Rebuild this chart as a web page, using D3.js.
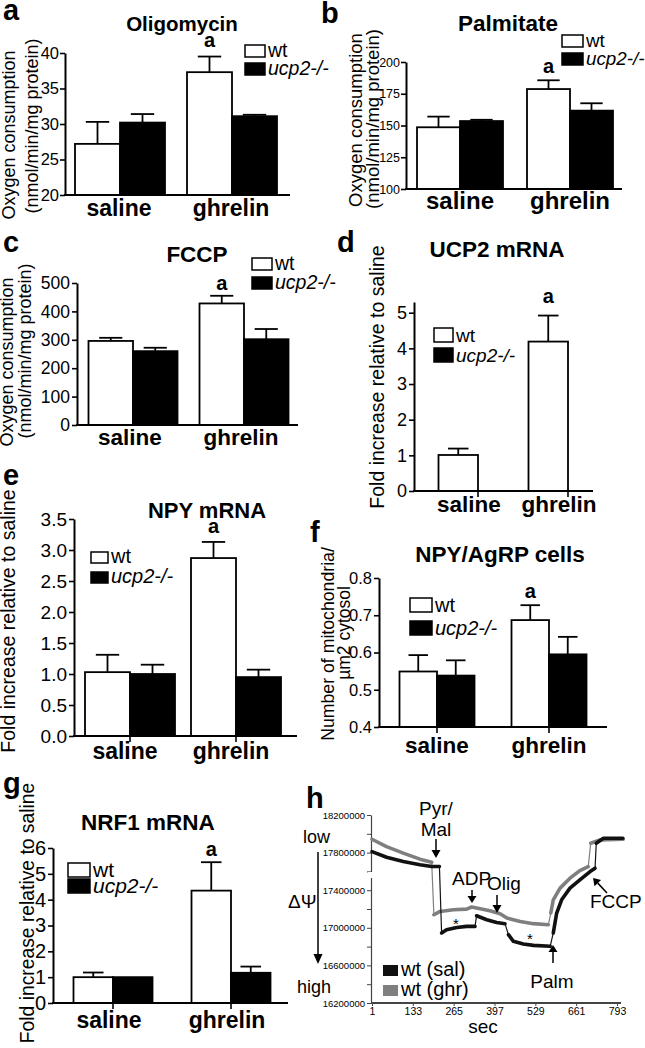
<!DOCTYPE html>
<html><head><meta charset="utf-8">
<script src="https://cdn.jsdelivr.net/npm/d3@7"></script>
<style>body{margin:0;background:#fff}svg{display:block}text{font-family:"Liberation Sans",Arial,Helvetica,sans-serif}</style>
</head><body><svg id="c" width="645" height="1048"></svg>
<script>
// ---------- DATA ----------
const categories = ["saline", "ghrelin"];
const seriesNames = ["wt", "ucp2-/-"];

// a: Oligomycin
const oligoWt = [27.2, 37.3], oligoWtSem = [3.1, 2.2];
const oligoKo = [30.2, 31.1], oligoKoSem = [1.2, 0.2];
const oligoTicks = [20, 25, 30, 35, 40];
// b: Palmitate
const palmWt = [148.6, 178.7], palmWtSem = [8.4, 6.9];
const palmKo = [153.5, 161.7], palmKoSem = [1.0, 5.8];
const palmTicks = [100, 125, 150, 175, 200];
// c: FCCP
const fccpWt = [296, 428], fccpWtSem = [11, 27];
const fccpKo = [260, 302], fccpKoSem = [12, 36];
const fccpTicks = [0, 100, 200, 300, 400, 500];
// d: UCP2 mRNA
const ucp2Wt = [1.01, 4.19], ucp2WtSem = [0.18, 0.73];
const ucp2Ko = [null, null], ucp2KoSem = [null, null];
const ucp2Ticks = [0, 1, 2, 3, 4, 5];
// e: NPY mRNA
const npyWt = [1.03, 2.87], npyWtSem = [0.28, 0.26];
const npyKo = [1.0, 0.95], npyKoSem = [0.15, 0.12];
const npyTicks = [0, 0.5, 1.0, 1.5, 2.0, 2.5, 3.0, 3.5];
// f: NPY/AgRP cells
const mitoWt = [0.549, 0.687], mitoWtSem = [0.044, 0.040];
const mitoKo = [0.538, 0.595], mitoKoSem = [0.041, 0.047];
const mitoTicks = [0.4, 0.5, 0.6, 0.7, 0.8];
// g: NRF1 mRNA
const nrf1Wt = [1.0, 4.35], nrf1WtSem = [0.18, 1.1];
const nrf1Ko = [1.0, 1.17], nrf1KoSem = [0, 0.24];
const nrf1Ticks = [0, 1, 2, 3, 4, 5, 6];
// h: membrane potential traces [sec, value], split into runs of dense samples
const hSeries = ["wt (sal)", "wt (ghr)"];
const salTrace = [
  [[1,17810000],[48,17751000],[102,17705000],[156,17670000],[194,17652000],[219,17652000]],
  [[226,16945000],[242,16980000],[275,17004000],[307,17015000],[334,17015000]],
  [[339,17128000],[372,17086000],[404,17057000],[431,17044000]],
  [[442,16927000],[458,16856000],[490,16828000],[523,16813000],[577,16803000]],
  [[587,16945000],[598,17157000],[614,17298000],[641,17422000],[673,17510000],[706,17598000],[722,17634000]],
  [[726,17900000],[749,17953000],[812,17953000]]
];
const ghrTrace = [
  [[1,17942000],[48,17864000],[102,17794000],[156,17730000],[194,17698000]],
  [[201,17139000],[221,17174000],[264,17192000],[307,17199000],[323,17221000],[339,17210000],[382,17181000],[415,17150000],[437,17104000],[480,17068000],[523,17044000],[571,17033000]],
  [[579,17157000],[587,17298000],[609,17422000],[641,17528000],[673,17609000],[700,17652000]],
  [[708,17900000],[738,17935000],[813,17942000]]
];
const hYLabels = [16200000, 16600000, 17000000, 17400000, 17800000, 18200000];
const hXTicks = [1, 133, 265, 397, 529, 661, 793];

// ---------- DRAWING ----------
const svg = d3.select("#c");
svg.append("rect").attr("width", 645).attr("height", 1048).attr("fill", "#fff");

function text(g, s, x, y, o = {}) {
  const t = g.append("text").text(s)
    .attr("font-size", o.size || 16)
    .attr("font-weight", o.bold ? "bold" : "normal")
    .attr("text-anchor", o.anchor || "start")
    .attr("fill", o.fill || "#000");
  if (o.italic) t.attr("font-style", "italic");
  if (o.family) t.attr("font-family", o.family);
  if (o.rotate) t.attr("transform", `translate(${x},${y}) rotate(-90)`);
  else t.attr("x", x).attr("y", y);
  return t;
}

function barPanel(c) {
  const g = svg.append("g");
  const y = d3.scaleLinear().domain(c.domain).range(c.yRange);
  const xc = d3.scalePoint().domain(categories).range(c.centers);
  const xs = d3.scaleBand().domain(seriesNames).range([-c.barW, c.barW]);
  const w = xs.bandwidth();
  const y0 = y(c.domain[0]);
  const sets = [
    { s: seriesNames[0], v: c.wt, e: c.wtSem, fill: "#fff" },
    { s: seriesNames[1], v: c.ko, e: c.koSem, fill: "#000" }
  ];
  sets.forEach(d => {
    categories.forEach((cat, i) => {
      const v = d.v[i];
      if (v == null) return;
      const x0 = xc(cat) + xs(d.s), cx = x0 + w / 2, e = d.e[i];
      if (e) {
        g.append("line").attr("x1", cx).attr("x2", cx).attr("y1", y(v)).attr("y2", y(v + e))
          .attr("stroke", "#000").attr("stroke-width", 1.8);
        g.append("line").attr("x1", cx - w * 0.26).attr("x2", cx + w * 0.26).attr("y1", y(v + e)).attr("y2", y(v + e))
          .attr("stroke", "#000").attr("stroke-width", 1.8);
      }
      g.append("rect").attr("x", x0).attr("y", y(v)).attr("width", w).attr("height", y0 - y(v))
        .attr("fill", d.fill).attr("stroke", "#000").attr("stroke-width", 1.8);
    });
  });
  // y axis
  const ax = g.append("g").attr("transform", `translate(${c.axisX},0)`)
    .call(d3.axisLeft(y).tickValues(c.ticks).tickSize(5).tickSizeOuter(0).tickPadding(c.tickPad ?? 2)
      .tickFormat(d3.format(c.fmt)));
  ax.select(".domain").attr("stroke-width", 2).attr("stroke", "#000");
  ax.selectAll(".tick line").attr("stroke-width", 1.6).attr("stroke", "#000");
  ax.selectAll(".tick text").attr("font-size", c.tickSize).attr("fill", "#000")
    .attr("font-family", '"Liberation Sans",Arial,sans-serif');
  // baseline
  g.append("line").attr("x1", c.axisX - 1).attr("x2", c.axisEnd).attr("y1", y0).attr("y2", y0)
    .attr("stroke", "#000").attr("stroke-width", 2);
  if (c.xTicks) categories.forEach(cat => g.append("line").attr("x1", xc(cat)).attr("x2", xc(cat))
    .attr("y1", y0).attr("y2", y0 + 6).attr("stroke", "#000").attr("stroke-width", 1.6));
  // category labels
  categories.forEach(cat => text(g, cat, xc(cat) + c.cat.dx, c.cat.y, { size: c.cat.size, bold: true, anchor: "middle" }));
  // significance marker above wt ghrelin
  text(g, "a", xc("ghrelin") + xs(seriesNames[0]) + w / 2, c.sigY, { size: 20, bold: true, anchor: "middle" });
  // title & panel letter
  text(g, c.title.t, c.title.x, c.title.y, { size: c.title.size, bold: true, anchor: "middle" });
  text(g, c.letter.t, c.letter.x, c.letter.y, { size: 29, bold: true });
  // legend
  seriesNames.forEach((s, i) => {
    g.append("rect").attr("x", c.leg.x).attr("y", c.leg.y[i]).attr("width", c.leg.w).attr("height", c.leg.h)
      .attr("fill", i ? "#000" : "#fff").attr("stroke", "#000").attr("stroke-width", 1.5);
    text(g, s, c.leg.x + c.leg.w + 3, c.leg.y[i] + c.leg.h, { size: c.leg.size, italic: i === 1 });
  });
  // y titles
  c.yTitle.forEach(t => text(g, t.t, t.x, t.y, { size: t.size, anchor: "middle", rotate: true }));
}

const panels = [
  { wt: oligoWt, wtSem: oligoWtSem, ko: oligoKo, koSem: oligoKoSem, ticks: oligoTicks, fmt: "d",
    domain: [20, 40], yRange: [195, 53], axisX: 65, axisEnd: 290, centers: [120, 232], barW: 45, tickSize: 16.5, tickPad: 1,
    letter: { t: "a", x: 3, y: 20 }, title: { t: "Oligomycin", x: 182, y: 31, size: 20.5 }, sigY: 47,
    leg: { x: 245, y: [45, 63], w: 20, h: 12, size: 19.5 }, cat: { y: 216, size: 23, dx: -1 },
    yTitle: [{ t: "Oxygen consumption", x: 15, y: 135, size: 18 }, { t: "(nmol/min/mg protein)", x: 38, y: 126, size: 18 }] },
  { wt: palmWt, wtSem: palmWtSem, ko: palmKo, koSem: palmKoSem, ticks: palmTicks, fmt: "d",
    domain: [100, 200], yRange: [189, 62], axisX: 406, axisEnd: 622, centers: [460, 570], barW: 43, tickSize: 12.5, tickPad: 1,
    letter: { t: "b", x: 321, y: 23 }, title: { t: "Palmitate", x: 508, y: 31, size: 22.5 }, sigY: 73,
    leg: { x: 562, y: [35, 53], w: 21, h: 12, size: 18.8 }, cat: { y: 209, size: 24, dx: 0 },
    yTitle: [{ t: "Oxygen consumption", x: 362, y: 120, size: 18.5 }, { t: "(nmol/min/mg protein)", x: 379, y: 119, size: 18.5 }] },
  { wt: fccpWt, wtSem: fccpWtSem, ko: fccpKo, koSem: fccpKoSem, ticks: fccpTicks, fmt: "d",
    domain: [0, 500], yRange: [425, 283], axisX: 77, axisEnd: 298, centers: [133, 244], barW: 44.5, tickSize: 17.5, tickPad: 2,
    letter: { t: "c", x: 3, y: 252 }, title: { t: "FCCP", x: 197, y: 262, size: 22.5 }, sigY: 290,
    leg: { x: 252, y: [258, 277], w: 20, h: 12, size: 19.5 }, cat: { y: 445, size: 22.5, dx: -3 },
    yTitle: [{ t: "Oxygen consumption", x: 13, y: 362, size: 18 }, { t: "(nmol/min/mg protein)", x: 31, y: 351, size: 18 }] },
  { wt: ucp2Wt, wtSem: ucp2WtSem, ko: ucp2Ko, koSem: ucp2KoSem, ticks: ucp2Ticks, fmt: "d",
    domain: [0, 5.3], yRange: [491, 302], axisX: 414, axisEnd: 593, centers: [478, 568], barW: 39.5, tickSize: 18, tickPad: 2, xTicks: true,
    letter: { t: "d", x: 337, y: 252 }, title: { t: "UCP2 mRNA", x: 497, y: 257, size: 22.5 }, sigY: 303,
    leg: { x: 434, y: [328, 348], w: 19, h: 14, size: 19 }, cat: { y: 512, size: 22.5, dx: -9 },
    yTitle: [{ t: "Fold increase relative to saline", x: 384, y: 377, size: 19.5 }] },
  { wt: npyWt, wtSem: npyWtSem, ko: npyKo, koSem: npyKoSem, ticks: npyTicks, fmt: ".1f",
    domain: [0, 3.5], yRange: [736, 519], axisX: 74, axisEnd: 297, centers: [130, 236], barW: 45, tickSize: 19, tickPad: 2, xTicks: true,
    letter: { t: "e", x: 3, y: 485 }, title: { t: "NPY mRNA", x: 207, y: 518, size: 22 }, sigY: 533,
    leg: { x: 91, y: [552, 572], w: 17, h: 11, size: 20 }, cat: { y: 759, size: 23, dx: -5 },
    yTitle: [{ t: "Fold increase relative to saline", x: 15, y: 621, size: 19.5 }] },
  { wt: mitoWt, wtSem: mitoWtSem, ko: mitoKo, koSem: mitoKoSem, ticks: mitoTicks, fmt: ".1f",
    domain: [0.4, 0.8], yRange: [727, 578], axisX: 379, axisEnd: 607, centers: [437, 549], barW: 37.5, tickSize: 16.5, tickPad: 2, xTicks: true,
    letter: { t: "f", x: 310, y: 542 }, title: { t: "NPY/AgRP cells", x: 500, y: 562, size: 22.5 }, sigY: 598,
    leg: { x: 410, y: [598, 621], w: 22, h: 14, size: 20 }, cat: { y: 753, size: 22.5, dx: 0 },
    yTitle: [{ t: "Number of mitochondria/", x: 334, y: 644, size: 17.7 }, { t: "\u00b5m2 cytosol", x: 350, y: 633, size: 17.5 }] },
  { wt: nrf1Wt, wtSem: nrf1WtSem, ko: nrf1Ko, koSem: nrf1KoSem, ticks: nrf1Ticks, fmt: "d",
    domain: [0, 6], yRange: [1003, 848], axisX: 53, axisEnd: 288, centers: [113, 231], barW: 39.5, tickSize: 20, tickPad: 2, xTicks: true,
    letter: { t: "g", x: 3, y: 793 }, title: { t: "NRF1 mRNA", x: 148, y: 830, size: 22.5 }, sigY: 856,
    leg: { x: 68, y: [863, 879], w: 22, h: 14, size: 21 }, cat: { y: 1028, size: 23, dx: -4 },
    yTitle: [{ t: "Fold increase relative to saline", x: 34, y: 913, size: 19.3 }] }
];
panels.forEach(barPanel);

// ---------- panel h ----------
function arrow(g, x1, y1, x2, y2, hl = 8, hw = 4.5) {
  const a = Math.atan2(y2 - y1, x2 - x1);
  const bx = x2 - hl * Math.cos(a), by = y2 - hl * Math.sin(a);
  g.append("line").attr("x1", x1).attr("y1", y1).attr("x2", bx).attr("y2", by).attr("stroke", "#000").attr("stroke-width", 1.5);
  const px = -Math.sin(a) * hw, py = Math.cos(a) * hw;
  g.append("path").attr("d", `M${x2},${y2}L${bx + px},${by + py}L${bx - px},${by - py}Z`).attr("fill", "#000");
}
(function hPanel() {
  const g = svg.append("g");
  const x = d3.scaleLinear().domain([1, 793]).range([372, 617]);
  const y = d3.scaleLinear().domain([16200000, 18200000]).range([1003, 815]);
  const ay = g.append("g").attr("transform", "translate(371,0)")
    .call(d3.axisLeft(y).tickValues(d3.range(16200000, 18200001, 200000)).tickSize(4).tickSizeOuter(0).tickPadding(2)
      .tickFormat(d => hYLabels.includes(d) ? d : ""));
  ay.select(".domain").attr("stroke", "#444").attr("stroke-width", 1.2);
  ay.selectAll(".tick line").attr("stroke", "#444");
  ay.selectAll(".tick text").attr("font-size", 9.5).attr("fill", "#000").attr("font-family", '"Liberation Sans",Arial,sans-serif');
  g.append("rect").attr("x", 368).attr("y", 872).attr("width", 6).attr("height", 6).attr("fill", "#fff");
  const ax = g.append("g").attr("transform", "translate(0,1003)")
    .call(d3.axisBottom(x).tickValues(hXTicks).tickSize(3).tickSizeOuter(0).tickPadding(2));
  ax.select(".domain").remove();
  ax.selectAll(".tick line").attr("stroke", "#444");
  ax.selectAll(".tick text").attr("font-size", 10.5).attr("fill", "#000").attr("font-family", '"Liberation Sans",Arial,sans-serif');
  g.append("line").attr("x1", 371).attr("x2", 621).attr("y1", 1003).attr("y2", 1003).attr("stroke", "#444").attr("stroke-width", 2);

  const line = d3.line().x(d => x(d[0])).y(d => y(d[1]));
  [[ghrTrace, "#7f7f7f"], [salTrace, "#111"]].forEach(([tr, col]) => {
    g.append("path").attr("d", line(tr.flat())).attr("fill", "none").attr("stroke", col).attr("stroke-width", 1.2);
    tr.forEach(seg => g.append("path").attr("d", line(seg)).attr("fill", "none").attr("stroke", col)
      .attr("stroke-width", 3.6).attr("stroke-linejoin", "round").attr("stroke-linecap", "round"));
  });

  // annotations
  text(g, "Pyr/", 436, 815, { size: 19, anchor: "middle" });
  text(g, "Mal", 436, 836, { size: 19, anchor: "middle" });
  arrow(g, 436, 839, 436, 858);
  text(g, "ADP", 452, 885, { size: 19 });
  text(g, "Olig", 487, 890, { size: 19 });
  arrow(g, 472, 890, 472, 903, 7);
  arrow(g, 497, 895, 497, 913);
  text(g, "FCCP", 590, 908, { size: 19 });
  arrow(g, 607, 893, 593, 878, 7);
  arrow(g, 553, 963, 553, 945, 7);
  text(g, "Palm", 552, 988, { size: 19, anchor: "middle" });
  text(g, "*", 456, 929, { size: 15, anchor: "middle" });
  text(g, "*", 530, 944, { size: 15, anchor: "middle" });
  text(g, "low", 303, 843, { size: 18 });
  text(g, "high", 297, 993, { size: 18 });
  text(g, "\u0394\u03a8", 288, 908, { size: 19, family: '"DejaVu Serif","Liberation Serif",serif' });
  arrow(g, 318, 852, 318, 964, 10, 4.5);
  // legend
  [["#111", 965], ["#7f7f7f", 985]].forEach(([col, yy], i) => {
    g.append("rect").attr("x", 383).attr("y", yy).attr("width", 15).attr("height", 11).attr("fill", col);
    text(g, hSeries[i], 401, yy + 11, { size: 20 });
  });
  text(g, "sec", 483, 1033, { size: 19, anchor: "middle" });
  text(g, "h", 306, 808, { size: 29, bold: true });
})();
</script></body></html>
